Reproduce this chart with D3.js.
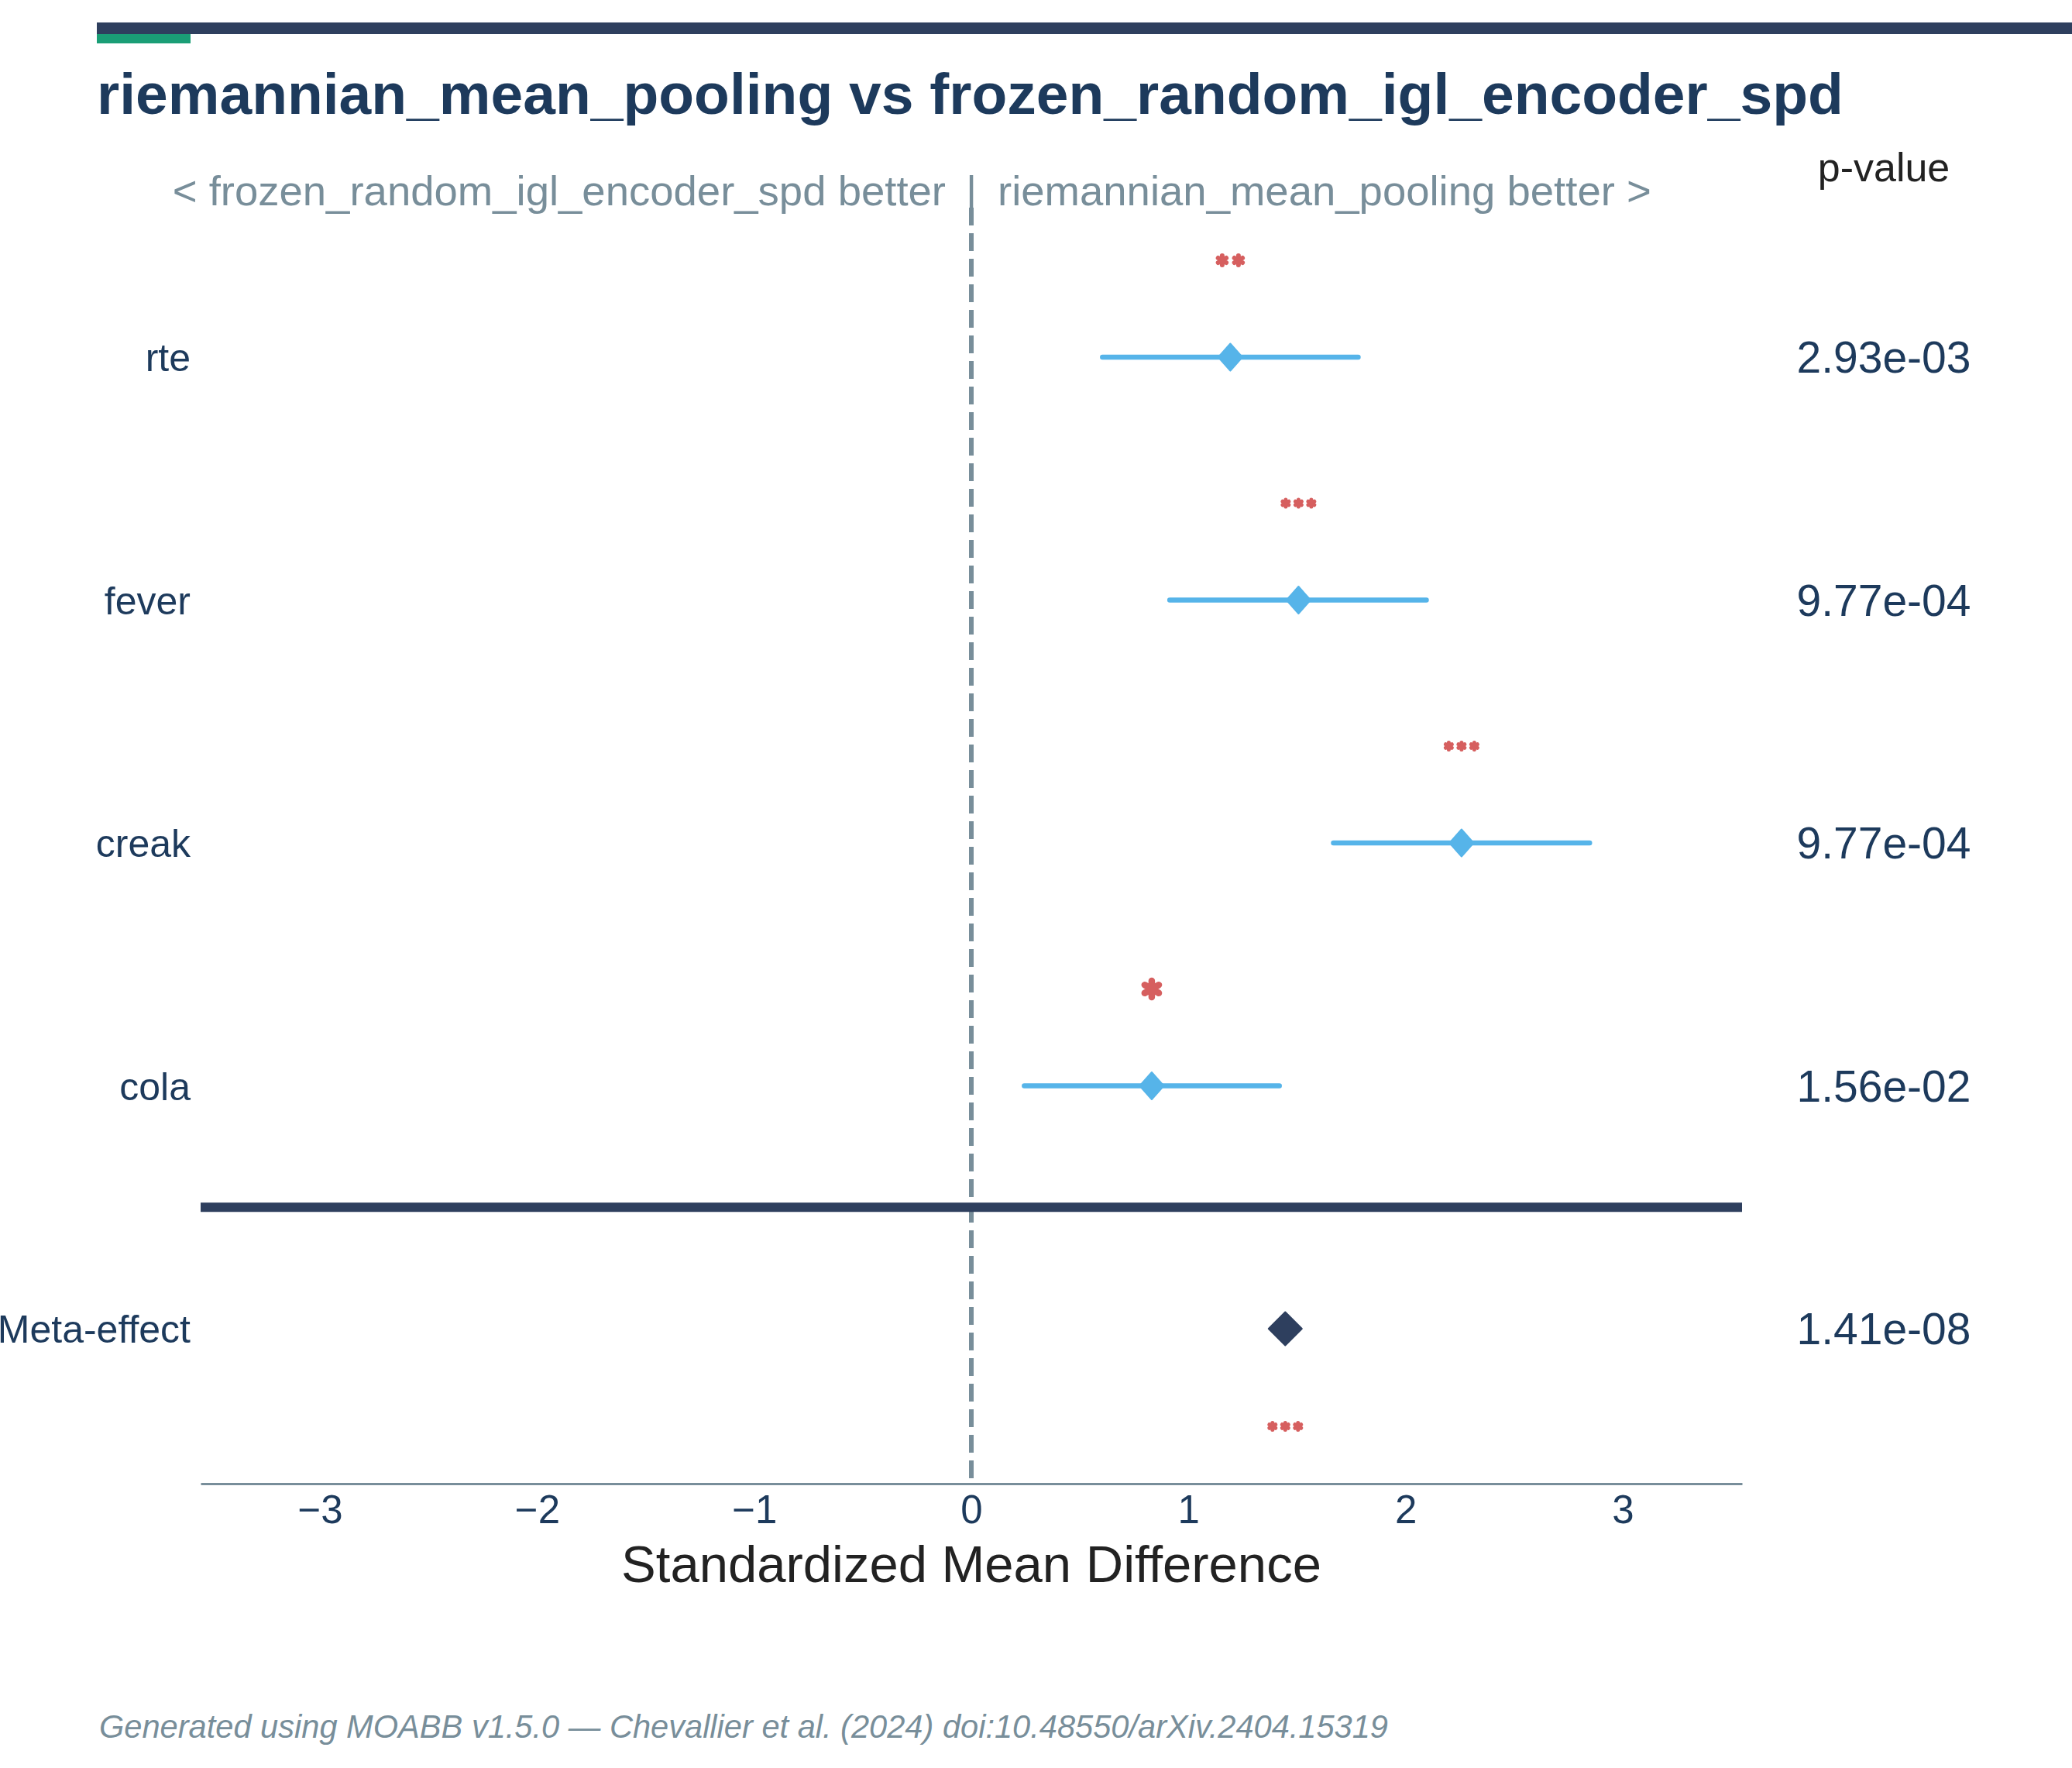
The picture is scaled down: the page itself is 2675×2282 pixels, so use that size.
<!DOCTYPE html>
<html>
<head>
<meta charset="utf-8">
<script src="https://cdn.jsdelivr.net/npm/d3@7"></script>
<style>
  body { margin: 0; background: #fff; }
  text { font-family: "Liberation Sans", Arial, sans-serif; }
</style>
</head>
<body>
<svg width="2675" height="2282"></svg>
<script>
var datasets = ["rte", "fever", "creak", "cola"];
var smd = [1.193, 1.507, 2.258, 0.831];
var ciLow = [0.604, 0.914, 1.668, 0.244];
var ciHigh = [1.782, 2.096, 2.848, 1.419];
var pvals = ["2.93e-03", "9.77e-04", "9.77e-04", "1.56e-02"];
var metaLabel = "Meta-effect";
var metaSmd = 1.446;
var metaP = "1.41e-08";
var xTicks = [-3, -2, -1, 0, 1, 2, 3];

var navy = "#2e3f5e", title = "#1d3a5c", grey = "#788e9a", blue = "#56b4e9", red = "#d65f5f";

// star string from p-value
function stars(p) {
  p = +p;
  return p < 0.001 ? "***" : p < 0.01 ? "**" : p < 0.05 ? "*" : "";
}

var svg = d3.select("svg"),
  margin = {top: 268, left: 259, right: 2249, bottom: 1915};

var x = d3.scaleLinear().domain([-3.55, 3.55]).range([margin.left, margin.right]);
// row index -> y, meta sits at index 4
var y = d3.scaleLinear().domain([0, 4]).range([461, 1715]);

// header bars
svg.append("rect").attr("x", 125).attr("y", 29).attr("width", 2675 - 125).attr("height", 15).attr("fill", navy);
svg.append("rect").attr("x", 125).attr("y", 44).attr("width", 121).attr("height", 12).attr("fill", "#1a9e76");

svg.append("text")
  .attr("x", 125).attr("y", 147)
  .attr("font-size", 75).attr("font-weight", "bold").attr("fill", title)
  .text("riemannian_mean_pooling vs frozen_random_igl_encoder_spd");

// direction labels
svg.append("text").attr("x", x(0) - 33).attr("y", 265).attr("text-anchor", "end")
  .attr("font-size", 54.5).attr("fill", grey).text("< frozen_random_igl_encoder_spd better");
svg.append("text").attr("x", x(0)).attr("y", 265).attr("text-anchor", "middle")
  .attr("font-size", 54.5).attr("fill", grey).text("|");
svg.append("text").attr("x", x(0) + 34).attr("y", 265).attr("text-anchor", "start")
  .attr("font-size", 54.5).attr("fill", grey).text("riemannian_mean_pooling better >");

svg.append("text").attr("x", 2432).attr("y", 234).attr("text-anchor", "middle")
  .attr("font-size", 52).attr("fill", "#222").text("p-value");

// zero line
svg.append("line")
  .attr("x1", x(0)).attr("x2", x(0)).attr("y1", margin.top).attr("y2", margin.bottom)
  .attr("stroke", grey).attr("stroke-width", 6).attr("stroke-dasharray", "23,10");

// separator
svg.append("line")
  .attr("x1", margin.left).attr("x2", margin.right)
  .attr("y1", (y(3) + y(4)) / 2).attr("y2", (y(3) + y(4)) / 2)
  .attr("stroke", navy).attr("stroke-width", 12);

// x axis
var ax = svg.append("g")
  .attr("transform", "translate(0," + margin.bottom + ")")
  .call(d3.axisBottom(x).tickValues(xTicks).tickSize(0).tickPadding(15));
ax.select(".domain").attr("stroke", grey).attr("stroke-width", 3);
ax.selectAll("text").attr("font-size", 51).attr("fill", title)
  .attr("font-family", "Liberation Sans, Arial, sans-serif");

svg.append("text").attr("x", x(0)).attr("y", 2042).attr("text-anchor", "middle")
  .attr("font-size", 67).attr("fill", "#222").text("Standardized Mean Difference");

// y labels and p-values
var labels = datasets.concat([metaLabel]);
var allP = pvals.concat([metaP]);
svg.selectAll(".ylab").data(labels).enter().append("text")
  .attr("class", "ylab")
  .attr("x", 246).attr("y", function(d, i) { return y(i) + 18; })
  .attr("text-anchor", "end").attr("font-size", 50).attr("fill", title)
  .text(function(d) { return d; });
svg.selectAll(".pv").data(allP).enter().append("text")
  .attr("class", "pv")
  .attr("x", 2432).attr("y", function(d, i) { return y(i) + 20; })
  .attr("text-anchor", "middle").attr("font-size", 57).attr("fill", title)
  .text(function(d) { return d; });

// confidence intervals
svg.selectAll(".ci").data(smd).enter().append("line")
  .attr("class", "ci")
  .attr("x1", function(d, i) { return x(ciLow[i]); })
  .attr("x2", function(d, i) { return x(ciHigh[i]); })
  .attr("y1", function(d, i) { return y(i); })
  .attr("y2", function(d, i) { return y(i); })
  .attr("stroke", blue).attr("stroke-width", 6.5).attr("stroke-linecap", "round");

function diamond(w, h) {
  return "M0," + (-h) + "L" + w + ",0L0," + h + "L" + (-w) + ",0Z";
}

svg.selectAll(".pt").data(smd).enter().append("path")
  .attr("class", "pt")
  .attr("transform", function(d, i) { return "translate(" + x(d) + "," + y(i) + ")"; })
  .attr("d", diamond(15.5, 17.5))
  .attr("fill", blue).attr("stroke", blue).attr("stroke-width", 2).attr("stroke-linejoin", "round");

svg.append("path")
  .attr("transform", "translate(" + x(metaSmd) + "," + y(4) + ")")
  .attr("d", diamond(21.5, 21.5))
  .attr("fill", navy).attr("stroke", navy).attr("stroke-width", 2).attr("stroke-linejoin", "round");

// significance stars
var starStyle = {1: {r: 10.5, sw: 8.5, gap: 0}, 2: {r: 6, sw: 6, gap: 21}, 3: {r: 4.5, sw: 5, gap: 16.5}};
function drawStars(cx, cy, s) {
  var n = s.length;
  if (!n) return;
  var st = starStyle[n];
  var size = Math.pow(st.r / 0.59436, 2);
  for (var k = 0; k < n; k++) {
    svg.append("path")
      .attr("transform", "translate(" + (cx + (k - (n - 1) / 2) * st.gap) + "," + cy + ")")
      .attr("d", d3.symbol(d3.symbolAsterisk, size)())
      .attr("fill", "none").attr("stroke", red)
      .attr("stroke-width", st.sw).attr("stroke-linecap", "round");
  }
}
smd.forEach(function(d, i) { drawStars(x(d), y(i) - 125, stars(pvals[i])); });
drawStars(x(metaSmd), y(4) + 126, stars(metaP));

svg.append("text").attr("x", 128).attr("y", 2243)
  .attr("font-size", 41.6).attr("font-style", "italic").attr("fill", grey)
  .text("Generated using MOABB v1.5.0 \u2014 Chevallier et al. (2024) doi:10.48550/arXiv.2404.15319");
</script>
</body>
</html>
